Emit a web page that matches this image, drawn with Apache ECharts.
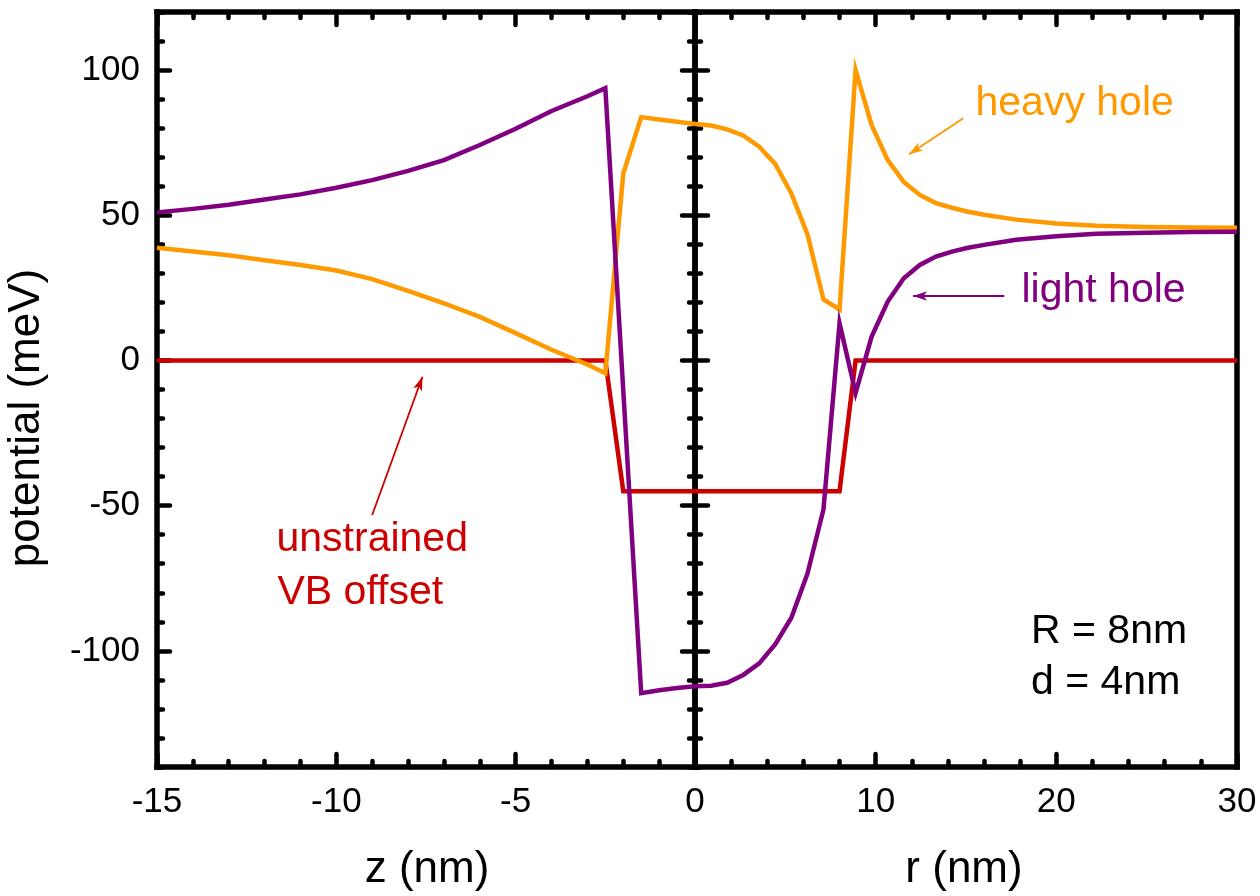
<!DOCTYPE html>
<html>
<head>
<meta charset="utf-8">
<script src="https://cdn.jsdelivr.net/npm/echarts@6/dist/echarts.min.js"></script>
<style>
  html, body { margin: 0; padding: 0; background: #fff; }
  #chart { width: 1260px; height: 896px; }
</style>
</head>
<body>
<div id="chart"></div>
<script>
// Valence-band potentials along z (growth axis) and r (radial), in meV.
const zPositions = [-15, -14, -13, -12, -11, -10, -9, -8, -7, -6, -5, -4, -3, -2.5, -2, -1.5, -1, -0.5, 0];
const heavyHoleZ = [38.8, 37.5, 36.2, 34.5, 32.9, 31.0, 28.0, 24.0, 19.7, 15.0, 9.4, 3.7, -1.4, -4.4, 64.4, 83.8, 83.0, 82.2, 81.4];
const lightHoleZ = [51.0, 52.2, 53.6, 55.4, 57.2, 59.5, 62.1, 65.3, 69.0, 74.2, 79.8, 85.9, 91.0, 93.8, -10.3, -114.6, -113.6, -112.8, -112.2];
const vbOffsetZ = [0, 0, 0, 0, 0, 0, 0, 0, 0, 0, 0, 0, 0, 0, -45, -45, -45, -45, -45];

const rPositions = [0, 0.889, 1.778, 2.667, 3.556, 4.444, 5.333, 6.222, 7.111, 8, 8.889, 9.778, 10.667, 11.556, 12.444, 13.333, 14.222, 15.111, 16, 17.778, 20, 22.222, 25, 27.5, 30];
const heavyHoleR = [81.4, 80.9, 79.6, 77.5, 73.6, 67.6, 57.5, 43.5, 21.0, 17.6, 100, 81.0, 69.0, 61.5, 57.0, 54.2, 52.6, 51.2, 50.2, 48.5, 47.2, 46.4, 46.0, 45.8, 45.7];
const lightHoleR = [-112.2, -112.0, -111.0, -108.3, -104.3, -97.7, -88.6, -73.5, -51.3, 12.8, -11.2, 8.2, 20.3, 28.3, 32.9, 35.8, 37.5, 38.8, 39.8, 41.6, 42.8, 43.6, 44.0, 44.2, 44.3];
const vbOffsetR = [-45, -45, -45, -45, -45, -45, -45, -45, -45, -45, 0, 0, 0, 0, 0, 0, 0, 0, 0, 0, 0, 0, 0, 0, 0];

// Axis ranges and tick labels
const zRange = [-15, 0];
const zTickStep = 5;
const rRange = [0, 30];
const rTickStep = 10;
const yRange = [-140, 120];
const yMajorTicks = [-100, -50, 0, 50, 100];
const yMinorStep = 10;

// Annotation arrows, tail -> head, in data coordinates
const heavyHoleArrow = [[14.85, 83.4], [11.85, 71.0]];
const lightHoleArrow = [[17.12, 22.2], [12.07, 22.2]];
const vbOffsetArrow = [[-9.0, -53.2], [-7.6, -5.6]];

const FONT = "'Liberation Sans', Arial, Helvetica, sans-serif";
const INK = '#000000';
const ORANGE = '#FF9900';
const PURPLE = '#800080';
const RED = '#CC0000';

const pairs = (xs, ys) => xs.map((x, i) => [x, ys[i]]);

const TICK_W = 4.5;
const frameLine = { show: true, onZero: false, lineStyle: { color: INK, width: 5.5, cap: 'square' } };
const noLine = { show: false, onZero: false };

function xAxis(gridIndex, position, range, step, withLabels, hideMinLabel) {
  return {
    type: 'value', gridIndex, position,
    min: range[0], max: range[1], interval: step,
    axisLine: frameLine,
    axisTick: { show: true, inside: true, length: 13, lineStyle: { color: INK, width: TICK_W, cap: 'round' } },
    minorTick: { show: true, splitNumber: 5, length: 6, lineStyle: { color: INK, width: TICK_W, cap: 'round' } },
    axisLabel: {
      show: withLabels, margin: 18, fontSize: 35, color: INK, fontFamily: FONT,
      showMinLabel: !hideMinLabel, showMaxLabel: true, hideOverlap: false
    },
    splitLine: { show: false }, minorSplitLine: { show: false }
  };
}

// Minor ticks every 10 meV, drawn with the frame line
function yMinorAxis(gridIndex, position, withTicks) {
  return {
    type: 'value', gridIndex, position,
    min: yRange[0], max: yRange[1], interval: yMinorStep,
    axisLine: frameLine,
    axisTick: { show: withTicks, inside: true, length: 6, lineStyle: { color: INK, width: TICK_W, cap: 'round' } },
    axisLabel: { show: false },
    splitLine: { show: false }
  };
}

// Major ticks at the labelled values
function yMajorAxis(gridIndex, position, withLabels) {
  return {
    type: 'value', gridIndex, position,
    min: yRange[0], max: yRange[1],
    axisLine: noLine,
    axisTick: { show: true, inside: true, length: 13, customValues: yMajorTicks, lineStyle: { color: INK, width: TICK_W, cap: 'round' } },
    axisLabel: { show: withLabels, customValues: yMajorTicks, margin: 17, fontSize: 35, color: INK, fontFamily: FONT },
    splitLine: { show: false }
  };
}

function curve(name, data, color, xi, yi, z, arrow) {
  const s = {
    name, type: 'line', data, xAxisIndex: xi, yAxisIndex: yi, z,
    showSymbol: false, symbol: 'none', smooth: false, clip: true,
    lineStyle: { color, width: 4.5, join: 'miter' },
    itemStyle: { color },
    emphasis: { disabled: true }, silent: true, animation: false
  };
  if (arrow) {
    s.markLine = {
      silent: true, animation: false,
      symbol: ['none', 'arrow'], symbolSize: [7, 14],
      label: { show: false }, emphasis: { disabled: true },
      lineStyle: { color, width: 1.8, type: 'solid' },
      data: [[
        { coord: arrow[0], symbol: 'none' },
        { coord: arrow[1], symbol: 'arrow', symbolSize: [7, 14] }
      ]]
    };
  }
  return s;
}

const chart = echarts.init(document.getElementById('chart'), null, { renderer: 'canvas' });

const annotationText = (text, x, y, color) => ({
  type: 'text', x, y, silent: true,
  style: { text, fill: color, fontSize: 41, fontFamily: FONT, align: 'left', verticalAlign: 'middle' }
});

chart.setOption({
  animation: false,
  backgroundColor: '#ffffff',
  grid: [
    { left: 157, right: 565, top: 12, bottom: 129, outerBoundsMode: 'none', containLabel: false },
    { left: 695, right: 23, top: 12, bottom: 129, outerBoundsMode: 'none', containLabel: false }
  ],
  xAxis: [
    xAxis(0, 'bottom', zRange, zTickStep, true, false),
    xAxis(0, 'top', zRange, zTickStep, false, false),
    xAxis(1, 'bottom', rRange, rTickStep, true, true),
    xAxis(1, 'top', rRange, rTickStep, false, false)
  ],
  yAxis: [
    yMinorAxis(0, 'left', true),
    yMajorAxis(0, 'left', true),
    yMinorAxis(0, 'right', true),
    yMajorAxis(0, 'right', false),
    yMinorAxis(1, 'left', true),
    yMajorAxis(1, 'left', false),
    yMinorAxis(1, 'right', false)
  ],
  series: [
    curve('unstrained VB offset', pairs(zPositions, vbOffsetZ), RED, 0, 0, 2, vbOffsetArrow),
    curve('unstrained VB offset', pairs(rPositions, vbOffsetR), RED, 2, 4, 2, null),
    curve('heavy hole', pairs(zPositions, heavyHoleZ), ORANGE, 0, 0, 3, null),
    curve('heavy hole', pairs(rPositions, heavyHoleR), ORANGE, 2, 4, 3, heavyHoleArrow),
    curve('light hole', pairs(zPositions, lightHoleZ), PURPLE, 0, 0, 4, null),
    curve('light hole', pairs(rPositions, lightHoleR), PURPLE, 2, 4, 4, lightHoleArrow)
  ],
  graphic: [
    annotationText('heavy hole', 975.5, 104, ORANGE),
    annotationText('light hole', 1021.5, 291, PURPLE),
    annotationText('unstrained', 276.5, 540, RED),
    annotationText('VB offset', 277.5, 593, RED),
    annotationText('R = 8nm', 1031, 632, INK),
    annotationText('d = 4nm', 1031, 683, INK),
    {
      type: 'text', x: 427, y: 870, silent: true,
      style: { text: 'z (nm)', fill: INK, fontSize: 44, fontFamily: FONT, align: 'center', verticalAlign: 'middle' }
    },
    {
      type: 'text', x: 964, y: 870, silent: true,
      style: { text: 'r (nm)', fill: INK, fontSize: 44, fontFamily: FONT, align: 'center', verticalAlign: 'middle' }
    },
    {
      type: 'text', x: 27, y: 418, rotation: Math.PI / 2, silent: true,
      style: { text: 'potential (meV)', fill: INK, fontSize: 44, fontFamily: FONT, align: 'center', verticalAlign: 'middle' }
    }
  ]
});
</script>
</body>
</html>
